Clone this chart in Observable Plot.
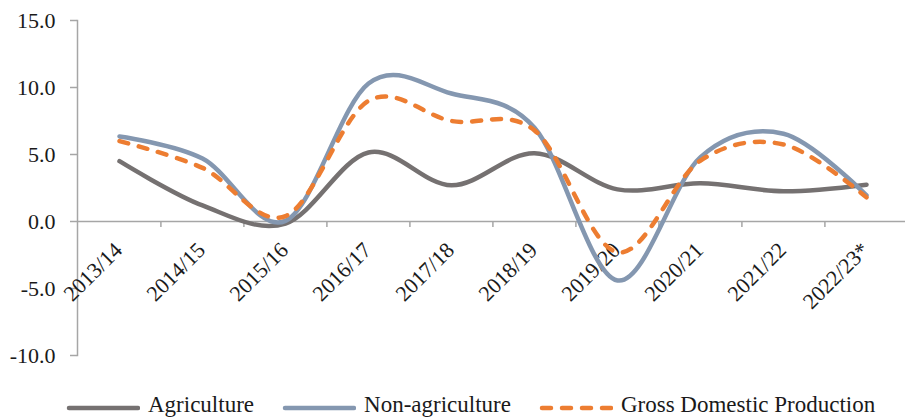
<!DOCTYPE html>
<html>
<head>
<meta charset="utf-8">
<script src="https://cdn.jsdelivr.net/npm/d3@7"></script>
<script src="https://cdn.jsdelivr.net/npm/@observablehq/plot@0.6"></script>
<style>
  html, body { margin: 0; padding: 0; background: #fff; }
  #chart { position: relative; width: 905px; height: 418px; overflow: hidden; background: #fff; }
  #legend { position: absolute; left: 66px; top: 393px; display: flex; align-items: flex-start;
            font-family: 'Liberation Serif', 'Times New Roman', serif; font-size: 23px; line-height: 24px; color: #1a1a1a; }
  #legend .item { display: flex; align-items: flex-start; margin-right: 28px; }
  #legend svg { display: block; margin-right: 8px; }
</style>
</head>
<body>
<div id="chart"><div id="legend"></div></div>
<script>
const categories = ["2013/14", "2014/15", "2015/16", "2016/17", "2017/18", "2018/19", "2019/20", "2020/21", "2021/22", "2022/23*"];
const agriculture = [4.5, 1.2, -0.15, 5.15, 2.7, 5.1, 2.4, 2.85, 2.25, 2.75];
const nonAgriculture = [6.35, 4.7, 0.05, 10.3, 9.55, 7.0, -4.4, 4.8, 6.55, 1.95];
const gdp = [6.0, 4.0, 0.4, 9.0, 7.5, 6.8, -2.3, 4.55, 5.75, 1.8];
const yTicks = [-10, -5, 0, 5, 10, 15];
const seriesNames = ["Agriculture", "Non-agriculture", "Gross Domestic Production"];
const seriesColors = ["#757171", "#8497B0", "#ED7D31"];
const seriesDash = [null, null, "9,11"];

const rows = (vals, name) => categories.map((c, i) => ({year: c, value: vals[i], series: name}));

const xRange = [76.5, 908.5];
const step = (xRange[1] - xRange[0]) / categories.length;
const axisColor = "#A6A6A6";
const textColor = "#1a1a1a";

const plot = Plot.plot({
  width: 905,
  height: 418,
  marginLeft: 77,
  marginRight: 0,
  marginTop: 20,
  marginBottom: 63,
  style: {fontFamily: "'Liberation Serif', 'Times New Roman', serif", fontSize: "22px", color: textColor, background: "#fff", overflow: "visible"},
  x: {type: "point", domain: categories, range: xRange, padding: 0.5, axis: null},
  y: {domain: [-10, 15], axis: null},
  marks: [
    Plot.frame({anchor: "left", stroke: axisColor, strokeWidth: 1.5}),
    Plot.axisY({ticks: yTicks, tickSize: 7, tickPadding: 15, tickFormat: d => d.toFixed(1),
      stroke: axisColor, strokeWidth: 1.5, fill: textColor, fontSize: 22, label: null}),
    Plot.ruleY([0], {stroke: axisColor, strokeWidth: 1.5}),
    Plot.ruleX(categories.slice(1), {x: d => d, y1: () => 0, y2: () => 0, dx: -step / 2, insetBottom: -6,
      stroke: axisColor, strokeWidth: 1.5}),
    Plot.text(categories, {x: d => d, y: () => 0, text: d => d, rotate: -45, textAnchor: "end",
      lineAnchor: "bottom", dx: 4, dy: 30, fill: textColor, fontSize: 22}),
    Plot.line(rows(agriculture, seriesNames[0]), {x: "year", y: "value", curve: "cardinal",
      stroke: seriesColors[0], strokeWidth: 4.5, strokeLinecap: "round"}),
    Plot.line(rows(nonAgriculture, seriesNames[1]), {x: "year", y: "value", curve: "cardinal",
      stroke: seriesColors[1], strokeWidth: 4.5, strokeLinecap: "round"}),
    Plot.line(rows(gdp, seriesNames[2]), {x: "year", y: "value", curve: "cardinal",
      stroke: seriesColors[2], strokeWidth: 4.5, strokeLinecap: "round", strokeDasharray: seriesDash[2]})
  ]
});
const chart = document.getElementById("chart");
chart.insertBefore(plot, chart.firstChild);

const legend = d3.select("#legend");
seriesNames.forEach((name, i) => {
  const item = legend.append("div").attr("class", "item");
  const svg = item.append("svg").attr("width", 74).attr("height", 24);
  svg.append("line").attr("x1", 3).attr("x2", 72).attr("y1", 15).attr("y2", 15)
    .attr("stroke", seriesColors[i]).attr("stroke-width", 4.5).attr("stroke-linecap", "round")
    .attr("stroke-dasharray", seriesDash[i]);
  item.append("span").text(name);
});
</script>
</body>
</html>
